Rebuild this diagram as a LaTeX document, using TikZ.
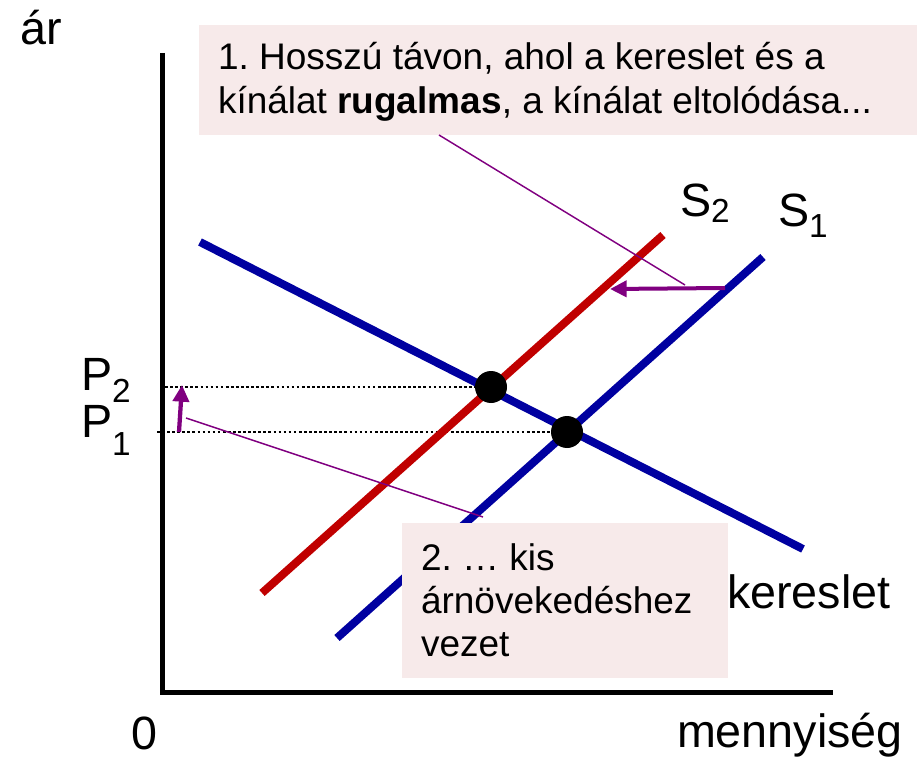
\documentclass[tikz,border=0pt]{standalone}
\usepackage{fontspec}
\setmainfont{Liberation Sans}
\usetikzlibrary{arrows.meta}
\definecolor{dblue}{RGB}{0,0,160}
\definecolor{dred}{RGB}{192,0,0}
\definecolor{purp}{RGB}{128,0,128}
\definecolor{boxpink}{RGB}{247,234,234}
\newcommand\bigf{\fontsize{35pt}{42pt}\selectfont}
\newcommand\subf{\fontsize{25pt}{30pt}\selectfont}
\newcommand\boxfa{\fontsize{27.75pt}{32.4pt}\selectfont}
\newcommand\boxfb{\fontsize{27.75pt}{32.6pt}\selectfont}
\frenchspacing
\begin{document}
\begin{tikzpicture}[x=0.75pt,y=-0.75pt,
  lbl/.style={anchor=base west,inner sep=0pt,outer sep=0pt,font=\bigf},
  txt/.style={anchor=base west,inner sep=0pt,outer sep=0pt},
  axisline/.style={line width=3.75pt,line join=miter},
  guide/.style={line width=2.1pt,dash pattern=on 2pt off 1.8pt,black},
  curve/.style={line width=6pt},
  eqdot/.style={circle,fill=black,inner sep=0pt,minimum size=24pt},
  shiftarrow/.style={purp,-{Triangle[length=12.5pt,width=12pt]}},
  pointer/.style={purp,line width=1.1pt},
  notebox/.style={fill=boxpink,inner sep=0pt,outer sep=0pt,anchor=north west}]
\useasboundingbox (0,0) rectangle (917,759);
% axes
\coordinate (ytop) at (162,53);
\coordinate (orig) at (162,692);
\coordinate (xend) at (833,692);
\draw[axisline] (ytop) -- (orig) -- (xend);
% equilibrium points
\coordinate (e2) at (491,387);
\coordinate (e1) at (567,432);
% guide lines
\coordinate (g2) at (160,387);
\coordinate (g1) at (157,432);
\draw[guide] (g2) -- (e2);
\draw[guide] (g1) -- (e1);
% demand
\coordinate (da) at (200,242);
\coordinate (db) at (803,549);
\draw[curve,dblue] (da) -- (db);
% S1
\coordinate (s1a) at (337,638);
\coordinate (s1b) at (763,257);
\draw[curve,dblue] (s1a) -- (s1b);
% S2
\coordinate (s2a) at (262,593);
\coordinate (s2b) at (663,235);
\draw[curve,dred] (s2a) -- (s2b);
% dots
\node[eqdot] (E2) at (e2) {};
\node[eqdot] (E1) at (e1) {};
% arrows
\coordinate (pa) at (179,432);
\coordinate (pb) at (182,385);
\draw[shiftarrow,line width=3.2pt] (pa) -- (pb);
\coordinate (sa) at (725,288);
\coordinate (sb) at (610,289);
\draw[shiftarrow,line width=3pt] (sa) -- (sb);
% boxes
\node[notebox,minimum width=538.5pt,minimum height=82.5pt] (B1) at (199,25) {};
\node[notebox,minimum width=244.5pt,minimum height=116.25pt] (B2) at (402,523) {};
% pointers
\coordinate (p1a) at (439,135);
\coordinate (p1b) at (685,285);
\draw[pointer] (p1a) -- (p1b);
\coordinate (p2a) at (186,418);
\coordinate (p2b) at (483,517);
\draw[pointer] (p2a) -- (p2b);
% box texts
\node[txt] (T1) at (218,70) {\parbox[t]{690pt}{\boxfa 1. Hosszú távon, ahol a kereslet és a\\kínálat \textbf{rugalmas}, a kínálat eltolódása...}};
\node[txt] (T2) at (421,570) {\parbox[t]{240pt}{\boxfb 2. … kis\\árnövekedéshez\\vezet}};
% labels
\node[lbl] (ar) at (21,45) {ár};
\node[lbl] (zero) at (131,749) {0};
\node[lbl] (menny) at (677,747) {mennyiség};
\node[lbl] (ker) at (727,608) {kereslet};
\node[lbl] (P2) at (81,390) {P\raisebox{-9.5pt}{\subf 2}};
\node[lbl] (P1) at (81,437) {P\raisebox{-13.5pt}{\subf 1}};
\node[lbl] (S2) at (680,217) {S\raisebox{-4.5pt}{\subf 2}};
\node[lbl] (S1) at (778,227) {S\raisebox{-8pt}{\subf 1}};
\end{tikzpicture}
\end{document}
